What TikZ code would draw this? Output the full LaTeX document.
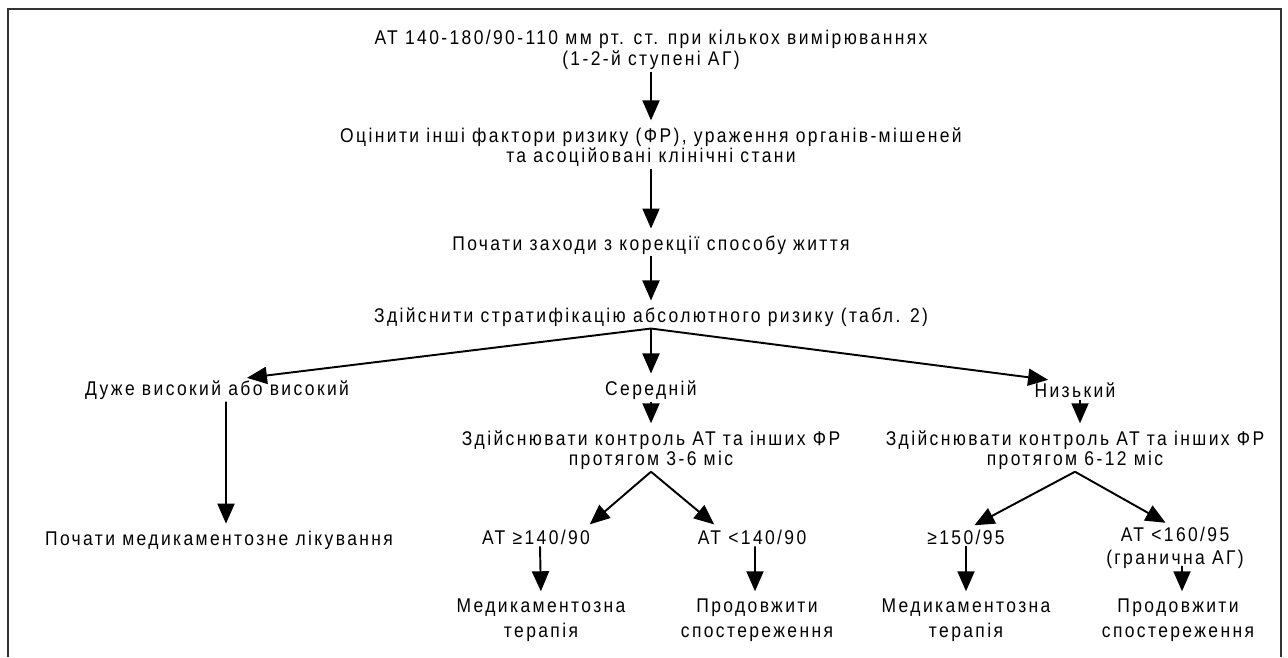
\documentclass[tikz,border=0pt]{standalone}
\usepackage{fontspec}
\setmainfont{Liberation Sans}[FakeStretch=0.88, LetterSpace=12]
\usepackage{tikz}
\usetikzlibrary{arrows.meta}

\tikzset{
  lbl/.style={align=center, inner sep=1pt, font=\fontsize{11.3}{11.6}\selectfont},
  lbltall/.style={lbl, font=\fontsize{11.3}{14.5}\selectfont},
  flow/.style={-{Triangle[length=0.4cm, width=0.34cm]}, line width=1.1pt, shorten >=0.1cm},
  frame/.style={line width=1.1pt, color=black!80}
}

\begin{document}
\begin{tikzpicture}[x=0.02cm, y=-0.02cm]
  \useasboundingbox (0,0) rectangle (1288,657);
  \draw [frame] (8,657) -- (8,9) -- (1281,9) -- (1281,657);

  % main line
  \node[lbl] (start) at (651,50) {АТ 140-180/90-110 мм рт. ст. при кількох вимірюваннях\\(1-2-й ступені АГ)};
  \node[lbl] (assess) at (651,147) {Оцінити інші фактори ризику (ФР), ураження органів-мішеней\\та асоційовані клінічні стани};
  \node[lbl] (lifestyle) at (651,245) {Почати заходи з корекції способу життя};
  \node[lbl] (strat) at (651,317) {Здійснити стратифікацію абсолютного ризику (табл. 2)};

  \draw[flow] (start) -- (assess);
  \draw[flow] (assess) -- (lifestyle);
  \draw[flow] (lifestyle) -- (strat);

  % risk levels
  \node[lbl] (high) at (217,390) {Дуже високий або високий};
  \node[lbl] (medium) at (651,390) {Середній};
  \node[lbl] (low) at (1075,390) {Низький};

  \draw[flow] (strat.south) -- ([xshift=0.5cm]high.north);
  \draw[flow] (strat.south) -- (medium.north);
  \draw[flow] (strat.south) -- ([xshift=-0.44cm]low.north);

  \node[lbl] (treat) at (219,540) {Почати медикаментозне лікування};
  \node[lbl] (ctrlmed) at (651,450) {Здійснювати контроль АТ та інших ФР\\протягом 3-6 міс};
  \node[lbl] (ctrllow) at (1075,450) {Здійснювати контроль АТ та інших ФР\\протягом 6-12 міс};

  \draw[flow] ([xshift=0.18cm]high.south) -- ([xshift=0.14cm]treat.north);
  \draw[flow] (medium) -- (ctrlmed);
  \draw[flow] ([xshift=0.1cm]low.south) -- ([xshift=0.1cm]ctrllow.north);

  % control results
  \node[lbl] (medhi) at (536,537) {АТ ≥140/90};
  \node[lbl] (medok) at (752,537) {АТ <140/90};
  \node[lbl] (lowhi) at (966,537) {≥150/95};
  \node[lbl, font=\fontsize{11.3}{13}\selectfont] (lowok) at (1175,548) {АТ <160/95\\(гранична АГ)};

  \draw[flow] (ctrlmed.south) -- ([xshift=1cm]medhi.north);
  \draw[flow] (ctrlmed.south) -- ([xshift=-0.68cm]medok.north);
  \draw[flow] (ctrllow.south) -- ([xshift=0.08cm]lowhi.north);
  \draw[flow] (ctrllow.south) -- ([xshift=-0.1cm]lowok.north);

  \node[lbltall] (therapya) at (541,620) {Медикаментозна\\терапія};
  \node[lbltall] (observea) at (757,620) {Продовжити\\спостереження};
  \node[lbltall] (therapyb) at (966,620) {Медикаментозна\\терапія};
  \node[lbltall] (observeb) at (1178,620) {Продовжити\\спостереження};

  \draw[flow] ([xshift=0.08cm]medhi.south) -- (therapya.north);
  \draw[flow] ([xshift=0.06cm]medok.south) -- ([xshift=-0.04cm]observea.north);
  \draw[flow] (lowhi) -- (therapyb);
  \draw[flow] ([xshift=0.14cm, yshift=0.1cm]lowok.south) -- ([xshift=0.08cm]observeb.north);
\end{tikzpicture}
\end{document}
